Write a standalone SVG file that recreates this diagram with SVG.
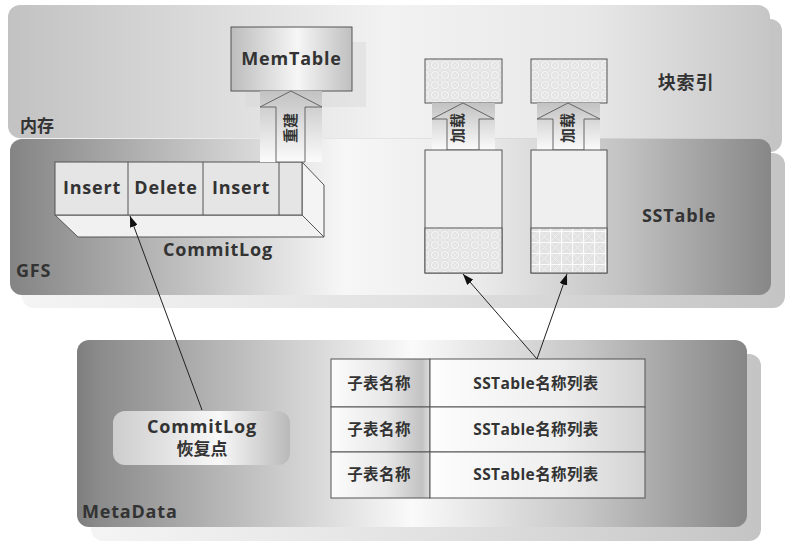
<svg xmlns="http://www.w3.org/2000/svg" width="792" height="547" viewBox="0 0 792 547">
<style>
  .t { font-family: "Open Sans", "Noto Sans CJK SC", sans-serif; font-weight: bold; fill: #333; }
  .lbl { font-size: 18px; letter-spacing: 0.8px; }
  .cell { font-size: 15.5px; letter-spacing: 0.4px; }
  .edge { stroke: #555; stroke-width: 1; }
  .conn { stroke: #222; stroke-width: 1; fill: none; marker-end: url(#arr); }
</style>
<defs>
  <linearGradient id="gMem" x1="0" y1="0" x2="1" y2="0">
    <stop offset="0" stop-color="#c2c2c2"/>
    <stop offset="0.5" stop-color="#f2f2f2"/>
    <stop offset="0.76" stop-color="#e8e8e8"/>
    <stop offset="1" stop-color="#c6c6c6"/>
  </linearGradient>
  <linearGradient id="gGfs" x1="0" y1="0" x2="1" y2="0">
    <stop offset="0" stop-color="#848484"/>
    <stop offset="0.44" stop-color="#f7f7f7"/>
    <stop offset="0.62" stop-color="#eaeaea"/>
    <stop offset="0.8" stop-color="#c4c4c4"/>
    <stop offset="1" stop-color="#878787"/>
  </linearGradient>
  <linearGradient id="gMeta" x1="0" y1="0" x2="1" y2="0">
    <stop offset="0" stop-color="#7e7e7e"/>
    <stop offset="0.03" stop-color="#8a8a8a"/>
    <stop offset="0.5" stop-color="#fafafa"/>
    <stop offset="0.75" stop-color="#c8c8c8"/>
    <stop offset="1" stop-color="#868686"/>
  </linearGradient>
  <linearGradient id="gShadow" x1="0" y1="0" x2="1" y2="0">
    <stop offset="0" stop-color="#f4f4f4"/>
    <stop offset="0.5" stop-color="#e2e2e2"/>
    <stop offset="1" stop-color="#c4c4c4"/>
  </linearGradient>
  <linearGradient id="gMemTable" x1="0" y1="0" x2="1" y2="0">
    <stop offset="0" stop-color="#bcbcbc"/>
    <stop offset="0.55" stop-color="#f6f6f6"/>
    <stop offset="1" stop-color="#bfbfbf"/>
  </linearGradient>
  <linearGradient id="gArrow" x1="0" y1="0" x2="0" y2="1">
    <stop offset="0" stop-color="#c2c2c2"/>
    <stop offset="1" stop-color="#fbfbfb"/>
  </linearGradient>
  <linearGradient id="gRecover" x1="0" y1="0" x2="1" y2="0">
    <stop offset="0" stop-color="#cdcdcd"/>
    <stop offset="0.6" stop-color="#f8f8f8"/>
    <stop offset="1" stop-color="#b9b9b9"/>
  </linearGradient>
  <linearGradient id="gCellL" x1="0" y1="0" x2="1" y2="0">
    <stop offset="0" stop-color="#fcfcfc"/>
    <stop offset="0.55" stop-color="#e8e8e8"/>
    <stop offset="0.92" stop-color="#c2c2c2"/>
    <stop offset="1" stop-color="#dedede"/>
  </linearGradient>
  <linearGradient id="gCellR" x1="0" y1="0" x2="1" y2="0">
    <stop offset="0" stop-color="#fdfdfd"/>
    <stop offset="0.6" stop-color="#eeeeee"/>
    <stop offset="1" stop-color="#d2d2d2"/>
  </linearGradient>
  <pattern id="pLattice" width="10" height="10" patternUnits="userSpaceOnUse">
    <rect width="10" height="10" fill="#e3e3e3"/>
    <circle cx="5" cy="5" r="3.6" fill="none" stroke="#fafafa" stroke-width="0.8"/>
    <path d="M0,0 L10,10 M10,0 L0,10" stroke="#f5f5f5" stroke-width="0.5"/>
  </pattern>
  <pattern id="pGrid" width="11" height="11" patternUnits="userSpaceOnUse">
    <rect width="11" height="11" fill="#e2e2e2"/>
    <path d="M0,0 L11,11 M11,0 L0,11" stroke="#f6f6f6" stroke-width="0.6"/>
    <path d="M0,0.5 H11 M0.5,0 V11" stroke="#fbfbfb" stroke-width="1.2"/>
  </pattern>
  <marker id="arr" markerUnits="userSpaceOnUse" markerWidth="11" markerHeight="8" refX="11" refY="4" orient="auto">
    <path d="M0,0 L11,4 L0,8 Z" fill="#111"/>
  </marker>
</defs>

<g id="panel-memory">
  <rect x="20" y="19" width="762" height="133" rx="12" fill="url(#gShadow)"/>
  <rect x="8" y="5" width="762" height="133" rx="12" fill="url(#gMem)"/>
  <text class="t" x="20" y="132" font-size="17">内存</text>
</g>

<g id="panel-gfs">
  <rect x="22" y="153" width="763" height="155" rx="12" fill="url(#gShadow)"/>
  <rect x="10" y="139" width="761" height="156" rx="12" fill="url(#gGfs)"/>
  <text class="t lbl" x="16" y="277">GFS</text>
</g>

<g id="panel-metadata">
  <rect x="91" y="354" width="670" height="187" rx="12" fill="url(#gShadow)"/>
  <rect x="77" y="340" width="670" height="187" rx="12" fill="url(#gMeta)"/>
  <text class="t lbl" x="82" y="518">MetaData</text>
</g>

<g id="memtable">
  <rect x="245" y="42" width="121" height="65" fill="#d6d6d6" opacity="0.45"/>
  <rect x="231" y="27" width="121" height="64" fill="url(#gMemTable)" class="edge"/>
  <text class="t lbl" x="291.5" y="65" text-anchor="middle">MemTable</text>
</g>

<g id="commitlog">
  <polygon points="55,215 302,215 324,237 78,237" fill="#f1f1f1" class="edge"/>
  <polygon points="302,162 324,185 324,237 302,215" fill="#f4f4f4" class="edge"/>
  <rect x="55" y="162" width="247" height="53" fill="#e5e5e5" class="edge"/>
  <path d="M128,162 V215 M203,162 V215 M279,162 V215" class="edge"/>
  <text class="t lbl" x="92" y="194" text-anchor="middle">Insert</text>
  <text class="t lbl" x="166" y="194" text-anchor="middle">Delete</text>
  <text class="t lbl" x="241" y="194" text-anchor="middle">Insert</text>
  <text class="t lbl" x="218" y="256" text-anchor="middle">CommitLog</text>
</g>

<g id="rebuild-arrow">
  <rect x="260" y="91" width="62" height="71" fill="url(#gArrow)"/>
  <path d="M291,91 L322,107 L305,107 L305,162 L276,162 L276,107 L260,107 Z" fill="url(#gArrow)" stroke="#666" stroke-width="1"/>
  <text class="t" font-size="15" transform="translate(296,128) rotate(-90)" text-anchor="middle">重建</text>
</g>

<g id="sstable-1">
  <rect x="425" y="59" width="77" height="44" fill="url(#pLattice)" class="edge"/>
  <rect x="432" y="103" width="63" height="47" fill="url(#gArrow)"/>
  <path d="M463,103 L494,119 L479,119 L479,150 L447,150 L447,119 L432,119 Z" fill="url(#gArrow)" stroke="#666" stroke-width="1"/>
  <text class="t" font-size="15" transform="translate(463,128) rotate(-90)" text-anchor="middle">加载</text>
  <rect x="425" y="150" width="77" height="123" fill="#efefef" class="edge"/>
  <rect x="425" y="228" width="77" height="45" fill="url(#pLattice)" class="edge"/>
</g>

<g id="sstable-2">
  <rect x="531" y="59" width="76" height="44" fill="url(#pLattice)" class="edge"/>
  <rect x="537" y="103" width="63" height="47" fill="url(#gArrow)"/>
  <path d="M568,103 L600,119 L584,119 L584,150 L553,150 L553,119 L537,119 Z" fill="url(#gArrow)" stroke="#666" stroke-width="1"/>
  <text class="t" font-size="15" transform="translate(573,128) rotate(-90)" text-anchor="middle">加载</text>
  <rect x="531" y="150" width="76" height="123" fill="#efefef" class="edge"/>
  <rect x="531" y="228" width="76" height="45" fill="url(#pGrid)" class="edge"/>
</g>

<g id="label-index">
  <text class="t lbl" x="686" y="89" text-anchor="middle">块索引</text>
</g>
<g id="label-sstable">
  <text class="t lbl" x="679" y="222" text-anchor="middle">SSTable</text>
</g>

<g id="recovery-point">
  <rect x="113" y="411" width="177" height="54" rx="12" fill="url(#gRecover)"/>
  <text class="t lbl" x="202" y="433" text-anchor="middle">CommitLog</text>
  <text class="t" font-size="17" x="202" y="455" text-anchor="middle">恢复点</text>
</g>

<g id="table">
  <rect x="331" y="359" width="99" height="48" fill="url(#gCellL)" class="edge"/>
  <rect x="430" y="359" width="215" height="48" fill="url(#gCellR)" class="edge"/>
  <rect x="331" y="407" width="99" height="45" fill="url(#gCellL)" class="edge"/>
  <rect x="430" y="407" width="215" height="45" fill="url(#gCellR)" class="edge"/>
  <rect x="331" y="452" width="99" height="46" fill="url(#gCellL)" class="edge"/>
  <rect x="430" y="452" width="215" height="46" fill="url(#gCellR)" class="edge"/>
  <text class="t cell" x="379" y="389" text-anchor="middle">子表名称</text>
  <text class="t cell" x="536" y="389" text-anchor="middle">SSTable名称列表</text>
  <text class="t cell" x="379" y="435" text-anchor="middle">子表名称</text>
  <text class="t cell" x="536" y="435" text-anchor="middle">SSTable名称列表</text>
  <text class="t cell" x="379" y="480" text-anchor="middle">子表名称</text>
  <text class="t cell" x="536" y="480" text-anchor="middle">SSTable名称列表</text>
</g>

<g id="connectors">
  <line x1="202" y1="410" x2="130" y2="216" class="conn"/>
  <line x1="537" y1="359" x2="463" y2="274" class="conn"/>
  <line x1="537" y1="359" x2="567" y2="274" class="conn"/>
</g>
</svg>
